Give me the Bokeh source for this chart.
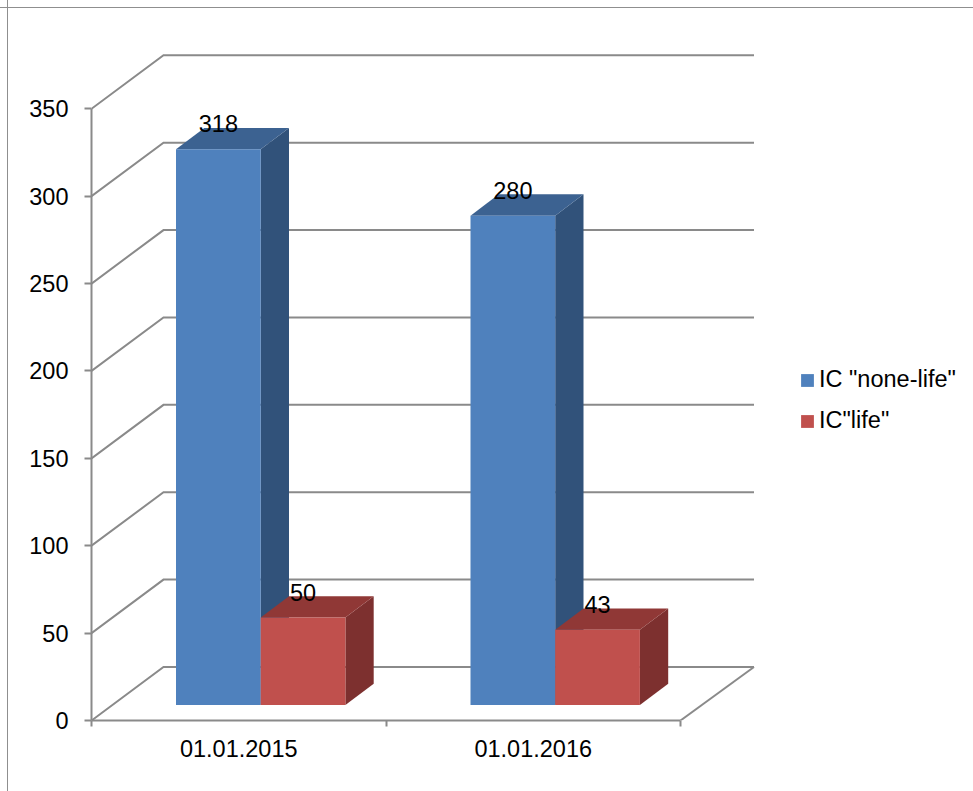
from bokeh.plotting import figure
from bokeh.models import LinearAxis, FixedTicker, Legend, LegendItem, ColumnDataSource, Range1d
from bokeh.core.properties import value
from bokeh.embed import file_html
from bokeh.resources import INLINE

categories = ["01.01.2015", "01.01.2016"]
none_life = [318, 280]
life = [50, 43]
y_ticks = [0, 50, 100, 150, 200, 250, 300, 350]
series_names = ['IC "none-life"', 'IC"life"']

FONT = "Liberation Sans"
FS = "23.5px"
GRID = "#8a8a8a"
EDGE = "#8f8f8f"

PX_X = 294.5      # pixels per category
PX_Y = 1.7477     # pixels per value unit
W, H = 973, 791
LEFT, BOTTOM = 91, 71

# oblique projection of the 3-D box, in data units
wall_dx = 72 / PX_X
wall_end_dx = 73.5 / PX_X
wall_dy = 53.5 / PX_Y
bar_lead = 84.5 / PX_X
bar_w = 84.7 / PX_X
bar_base = 15.5 / PX_Y
bar_dx = 28.3 / PX_X
bar_dy = 21.3 / PX_Y
label_dy = 25.5 / PX_Y

# chart-area border (top and left edges only) painted behind the transparent canvas
edge = f"linear-gradient({EDGE},{EDGE})"
p = figure(width=W, height=H, output_backend="svg", toolbar_location=None,
           x_range=Range1d(0, (W - LEFT) / PX_X), y_range=Range1d(0, (H - BOTTOM) / PX_Y),
           x_axis_type=None, y_axis_type=None,
           min_border_left=LEFT, min_border_bottom=BOTTOM, min_border_top=0, min_border_right=0,
           outline_line_color=None, border_fill_color=None, background_fill_color=None,
           styles={"background": f"{edge} 0 7px / 100% 1.4px no-repeat, {edge} 7px 0 / 1.4px 100% no-repeat, #ffffff"})
p.grid.visible = False

# walls: diagonal + back line per tick, and the floor's right edge
n = len(categories)
p.multi_line(xs=[[0, wall_dx, n + wall_end_dx] for _ in y_ticks],
             ys=[[v, v + wall_dy, v + wall_dy] for v in y_ticks],
             line_color=GRID, line_width=2, line_join="miter")
p.line(x=[n, n + wall_end_dx], y=[0, wall_dy], line_color=GRID, line_width=2)

# bars
styles = [("#4F81BD", "#3C6291", "#31527A"), ("#C0504D", "#903836", "#7D302F")]
series = [none_life, life]
front_renderers = []
for s, vals in enumerate(series):
    front, top, side = styles[s]
    lefts = [i + bar_lead + s * bar_w for i in range(n)]
    rights = [l + bar_w for l in lefts]
    tops = [bar_base + v for v in vals]
    bases = [bar_base] * n
    p.patches(xs=[[r, r + bar_dx, r + bar_dx, r] for r in rights],
              ys=[[b, b + bar_dy, t + bar_dy, t] for b, t in zip(bases, tops)],
              fill_color=side, line_color=None)
    p.patches(xs=[[l, l + bar_dx, r + bar_dx, r] for l, r in zip(lefts, rights)],
              ys=[[t, t + bar_dy, t + bar_dy, t] for t in tops],
              fill_color=top, line_color=None)
    r = p.quad(left=lefts, right=rights, bottom=bases, top=tops, fill_color=front, line_color=None)
    front_renderers.append(r)

# data labels drawn last, over all bars
for s, vals in enumerate(series):
    src = ColumnDataSource(dict(
        x=[i + bar_lead + s * bar_w + bar_w / 2 for i in range(n)],
        y=[bar_base + v + label_dy for v in vals],
        t=[str(v) for v in vals]))
    p.text(x="x", y="y", text="t", source=src, text_align="center", text_baseline="middle",
           text_font=value(FONT), text_font_size=value(FS), text_color="#000000")

# axes
yax = LinearAxis(ticker=FixedTicker(ticks=y_ticks), bounds=(0, 350))
yax.axis_line_color = GRID
yax.axis_line_width = 2
yax.major_tick_line_color = GRID
yax.major_tick_line_width = 2
yax.major_tick_out = 7
yax.major_tick_in = 0
yax.minor_tick_line_color = None
yax.major_label_standoff = 16
yax.major_label_text_font = FONT
yax.major_label_text_font_size = FS
yax.major_label_text_color = "#000000"
p.add_layout(yax, "left")

centers = [i + 0.5 for i in range(n)]
xax = LinearAxis(ticker=FixedTicker(ticks=centers, minor_ticks=list(range(n + 1))), bounds=(0, n))
xax.major_label_overrides = {c: lab for c, lab in zip(centers, categories)}
xax.axis_line_color = GRID
xax.axis_line_width = 2
xax.major_tick_line_color = None
xax.major_tick_out = 0
xax.major_tick_in = 0
xax.minor_tick_line_color = GRID
xax.minor_tick_line_width = 2
xax.minor_tick_out = 6
xax.minor_tick_in = 0
xax.major_label_standoff = 13
xax.major_label_text_font = FONT
xax.major_label_text_font_size = FS
xax.major_label_text_color = "#000000"
p.add_layout(xax, "below")

legend = Legend(items=[LegendItem(label=value(nm), renderers=[r]) for nm, r in zip(series_names, front_renderers)],
                location=(708, 286), orientation="vertical", border_line_color=None, background_fill_alpha=0,
                padding=0, margin=0, spacing=14, glyph_width=16, glyph_height=16, label_standoff=4,
                label_height=24, label_text_font=FONT, label_text_font_size=FS, label_text_color="#000000",
                label_text_baseline="middle")
p.add_layout(legend)

open("out.html", "w").write(file_html(p, INLINE))
